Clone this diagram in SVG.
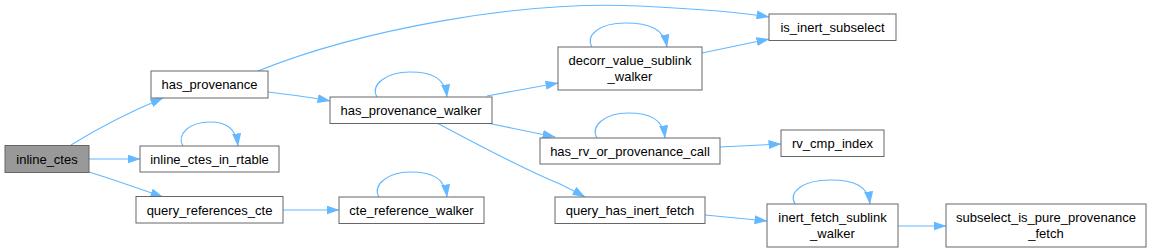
<svg xmlns="http://www.w3.org/2000/svg" width="1152" height="252" viewBox="0 0 1152 252">
<style>
.n rect{fill:#fff;stroke:#666;stroke-width:1}
.n text{font-family:"Liberation Sans",Arial,sans-serif;font-size:13px;fill:#000;text-anchor:middle}
#e path{fill:none;stroke:#63b8ff;stroke-width:1.1}
</style>
<defs>
<marker id="a" viewBox="0 0 13 9" refX="12.5" refY="4.5" markerWidth="13" markerHeight="9" markerUnits="userSpaceOnUse" orient="auto">
<path d="M0,0 L13,4.5 L0,9 z" fill="#63b8ff"/>
</marker>
</defs>
<rect width="1152" height="252" fill="#fff"/>
<g id="e">
<path marker-end="url(#a)" d="M71,145 C95,130 125,114 163,98"/>
<path marker-end="url(#a)" d="M89,159 L140,159"/>
<path marker-end="url(#a)" d="M89,172 C115,180 140,189 163,197"/>
<path marker-end="url(#a)" d="M183,146 C176,134 190,122 210,122 C226,122 236,128 238,146"/>
<path marker-end="url(#a)" d="M283,210 L339,210"/>
<path marker-end="url(#a)" d="M379,197 C372,185 388,172 410,172 C432,172 445,178 447,197"/>
<path marker-end="url(#a)" d="M258,71 C360,30 520,0 640,6 C700,9 740,12 769,17"/>
<path marker-end="url(#a)" d="M268,92 C285,94 310,97 330,101"/>
<path marker-end="url(#a)" d="M377,97 C370,85 386,72 410,72 C432,72 445,78 447,97"/>
<path marker-end="url(#a)" d="M487,96 L558,83"/>
<path marker-end="url(#a)" d="M592,47 C585,35 600,23 625,23 C650,23 664,29 667,47"/>
<path marker-end="url(#a)" d="M702,53 L769,39"/>
<path marker-end="url(#a)" d="M487,123 L555,137"/>
<path marker-end="url(#a)" d="M597,138 C590,126 605,113 628,113 C650,113 663,119 665,138"/>
<path marker-end="url(#a)" d="M720,147 L781,144"/>
<path marker-end="url(#a)" d="M437,123 C480,146 530,172 560,184 C570,189 578,193 585,197"/>
<path marker-end="url(#a)" d="M705,215 L767,221"/>
<path marker-end="url(#a)" d="M795,204 C788,192 803,180 830,180 C855,180 868,186 870,204"/>
<path marker-end="url(#a)" d="M898,226 L946,226"/>
</g>
<g id="inline_ctes" class="n"><rect x="5" y="145.5" width="84" height="27" style="fill:#999"/><text x="47" y="163.5">inline_ctes</text></g>
<g id="has_provenance" class="n"><rect x="151" y="71" width="117" height="27"/><text x="209.5" y="89">has_provenance</text></g>
<g id="inline_ctes_in_rtable" class="n"><rect x="140" y="146" width="139" height="26"/><text x="209.5" y="163.5">inline_ctes_in_rtable</text></g>
<g id="query_references_cte" class="n"><rect x="136" y="196.5" width="147" height="26.5"/><text x="209.5" y="214.5">query_references_cte</text></g>
<g id="has_provenance_walker" class="n"><rect x="330" y="97" width="162" height="26.5"/><text x="411" y="114.5">has_provenance_walker</text></g>
<g id="cte_reference_walker" class="n"><rect x="339" y="197" width="145" height="26.5"/><text x="411.5" y="214.5">cte_reference_walker</text></g>
<g id="decorr_value_sublink_walker" class="n"><rect x="558" y="47" width="144" height="43"/><text x="630" y="65">decorr_value_sublink</text><text x="630" y="81">_walker</text></g>
<g id="has_rv_or_provenance_call" class="n"><rect x="540" y="138" width="180" height="26"/><text x="630" y="155.5">has_rv_or_provenance_call</text></g>
<g id="query_has_inert_fetch" class="n"><rect x="555" y="197" width="150" height="26.5"/><text x="630" y="214.5">query_has_inert_fetch</text></g>
<g id="is_inert_subselect" class="n"><rect x="769" y="14" width="127" height="26.5"/><text x="832.5" y="31.5">is_inert_subselect</text></g>
<g id="rv_cmp_index" class="n"><rect x="781" y="130" width="103" height="26.5"/><text x="832.5" y="147.5">rv_cmp_index</text></g>
<g id="inert_fetch_sublink_walker" class="n"><rect x="767" y="204" width="131" height="43"/><text x="832.5" y="222">inert_fetch_sublink</text><text x="832.5" y="238">_walker</text></g>
<g id="subselect_is_pure_provenance_fetch" class="n"><rect x="946" y="204" width="200" height="43"/><text x="1046" y="222">subselect_is_pure_provenance</text><text x="1046" y="238">_fetch</text></g>
</svg>
